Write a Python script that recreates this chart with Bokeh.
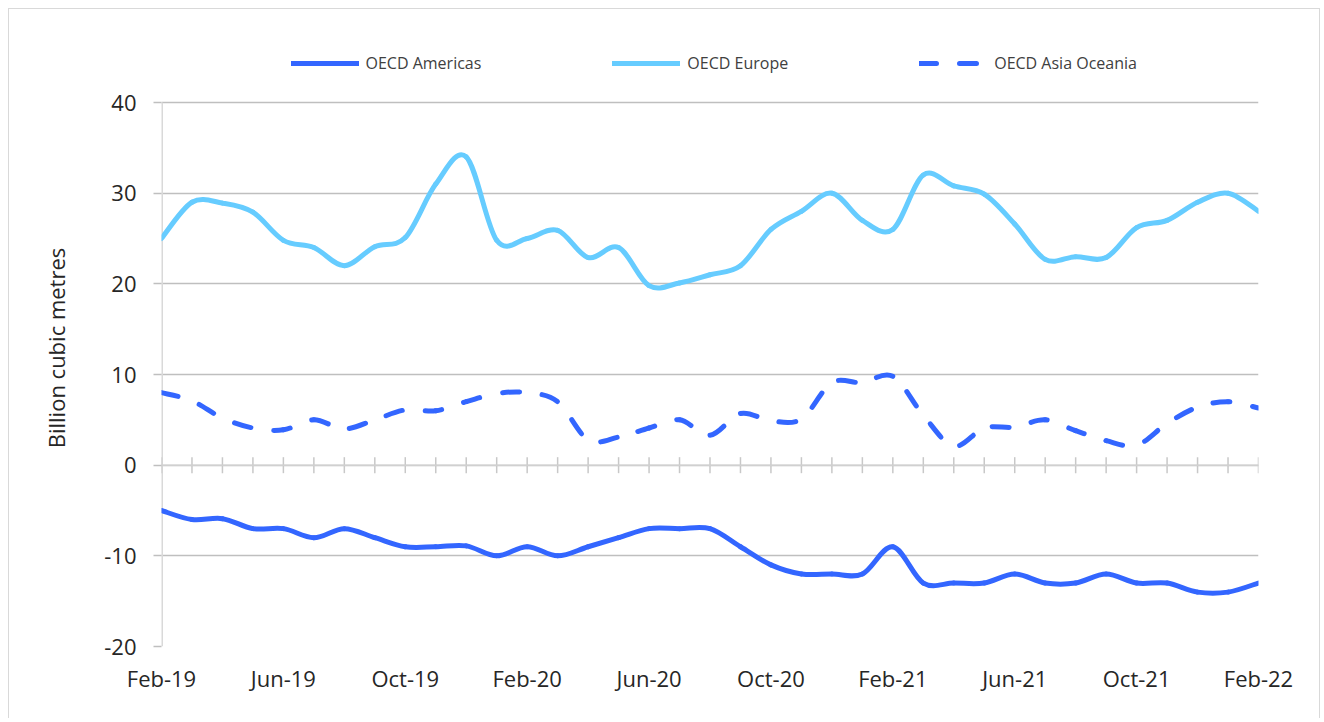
import numpy as np
from bokeh.plotting import figure
from bokeh.models import ColumnDataSource, Legend, LegendItem, Span, FixedTicker, Range1d
from bokeh.embed import file_html
from bokeh.resources import INLINE

# ---- data (monthly, Feb-19 .. Feb-22) ----
tick_labels = ["Feb-19", "Jun-19", "Oct-19", "Feb-20", "Jun-20",
               "Oct-20", "Feb-21", "Jun-21", "Oct-21", "Feb-22"]
americas = [-5, -6, -5.9, -7, -7, -8, -7, -8, -9, -9, -8.9, -10, -9, -10, -9, -8, -7, -7,
            -7, -9, -11, -12, -12, -12, -9, -13, -13, -13, -12, -13, -13, -12, -13, -13,
            -14, -14, -13]
europe = [25, 29, 28.9, 27.9, 24.8, 24, 22, 24.1, 25.1, 31, 34, 24.8, 25, 25.9, 22.9, 24,
          19.8, 20.1, 21, 22, 26, 28, 30, 27, 26, 32, 30.8, 29.9, 26.6, 22.7, 23, 22.9,
          26.2, 27, 29, 30, 28]
asia = [8, 7.1, 5.2, 4.1, 3.9, 5, 4, 5, 6.1, 6, 7, 7.9, 8, 7, 2.8, 3.1, 4.1, 5, 3.3, 5.7,
        4.9, 5.1, 9.1, 9.1, 9.8, 5.5, 2.1, 4.1, 4.2, 5, 3.8, 2.7, 2.2, 4.6, 6.4, 7, 6.3]
series_names = ["OECD Americas", "OECD Europe", "OECD Asia Oceania"]
y_ticks = [-20, -10, 0, 10, 20, 30, 40]

n = len(americas)
months = list(range(n))

FONT = "Open Sans"
BLUE = "#3366FF"
LIGHT = "#66CCFF"
GRID = "#bfbfbf"
AXIS = "#d9d9d9"
TXT = "#262626"

# canvas layout (px); the value axis spans 544 px for 60 units
W, H = 1312, 710
ML, MR, MT, MB = 152, 63, 40, 73
FW, FH = W - ML - MR, H - MT - MB
PX_PER_UNIT = 544 / 60.0
y_lo = min(y_ticks)
y_hi = y_lo + FH / PX_PER_UNIT   # extra headroom above 40 holds the legend

p = figure(width=W, height=H, x_range=Range1d(0, n - 1), y_range=Range1d(y_lo, y_hi),
           output_backend="svg", toolbar_location=None,
           min_border_left=ML, min_border_right=MR, min_border_top=MT, min_border_bottom=MB)
p.margin = (8, 0, 0, 8)
p.styles = {"border-top": "1px solid #d9d9d9", "border-left": "1px solid #d9d9d9",
            "border-right": "1px solid #d9d9d9"}
p.outline_line_color = None
p.background_fill_color = "white"
p.border_fill_color = "white"

# grid
p.xgrid.visible = False
p.ygrid.ticker = FixedTicker(ticks=y_ticks)
p.ygrid.grid_line_color = GRID
p.ygrid.grid_line_width = 1.5

# y axis
ya = p.yaxis[0]
ya.ticker = FixedTicker(ticks=y_ticks)
ya.major_label_overrides = {t: str(t) for t in y_ticks}
ya.axis_line_color = None
ya.major_tick_line_color = GRID
ya.major_tick_line_width = 1.5
ya.major_tick_out = 8
ya.major_tick_in = 0
ya.minor_tick_line_color = None
ya.major_label_text_font = FONT
ya.major_label_text_font_size = "22px"
ya.major_label_text_color = TXT
ya.major_label_standoff = 17
ya.axis_label = "Billion cubic metres"
ya.axis_label_text_font = FONT
ya.axis_label_text_font_size = "22px"
ya.axis_label_text_font_style = "normal"
ya.axis_label_text_color = TXT
ya.axis_label_standoff = 30
# visible value-axis line only between -20 and 40
p.segment(x0=[0], y0=[min(y_ticks)], x1=[0], y1=[max(y_ticks)], line_color=AXIS, line_width=3)

# x axis (labels at the bottom)
xa = p.xaxis[0]
tick_pos = [4 * i for i in range(len(tick_labels))]
xa.ticker = FixedTicker(ticks=tick_pos)
xa.major_label_overrides = {t: lab for t, lab in zip(tick_pos, tick_labels)}
xa.axis_line_color = None
xa.major_tick_line_color = None
xa.minor_tick_line_color = None
xa.major_label_text_font = FONT
xa.major_label_text_font_size = "22px"
xa.major_label_text_color = TXT
xa.major_label_standoff = 10

# zero axis with crossing month ticks
p.add_layout(Span(location=0, dimension="width", line_color="#d0d0d0", line_width=1.5))
p.scatter(x=months, y=[0] * n, marker="dash", size=16, angle=np.pi / 2,
          line_color="#c8c8c8", line_width=1.5)

# smoothed lines through the data points (Catmull-Rom -> cubic Bezier)
px_x = FW / (n - 1)
px_y = PX_PER_UNIT


def smooth(xs, ys, period=None):
    xs = np.asarray(xs, float)
    ys = np.asarray(ys, float)
    xp = np.concatenate([[xs[0]], xs, [xs[-1]]])
    yp = np.concatenate([[ys[0]], ys, [ys[-1]]])
    d = dict(x0=[], y0=[], x1=[], y1=[], cx0=[], cy0=[], cx1=[], cy1=[], off=[])
    total = 0.0
    for k in range(len(xs) - 1):
        a, b = k + 1, k + 2
        c0x = xp[a] + (xp[b] - xp[a - 1]) / 6.0
        c0y = yp[a] + (yp[b] - yp[a - 1]) / 6.0
        c1x = xp[b] - (xp[b + 1] - xp[a]) / 6.0
        c1y = yp[b] - (yp[b + 1] - yp[a]) / 6.0
        d["x0"].append(xp[a]); d["y0"].append(yp[a])
        d["x1"].append(xp[b]); d["y1"].append(yp[b])
        d["cx0"].append(c0x); d["cy0"].append(c0y)
        d["cx1"].append(c1x); d["cy1"].append(c1y)
        d["off"].append(int(round(total % period)) if period else 0)
        pts = [(xp[a], yp[a]), (c0x, c0y), (c1x, c1y), (xp[b], yp[b])]
        poly = sum(np.hypot((pts[i + 1][0] - pts[i][0]) * px_x,
                            (pts[i + 1][1] - pts[i][1]) * px_y) for i in range(3))
        chord = np.hypot((pts[3][0] - pts[0][0]) * px_x, (pts[3][1] - pts[0][1]) * px_y)
        total += (poly + chord) / 2.0
    return ColumnDataSource(d)


LW = 5
DASH = "17 23"
p.bezier(x0="x0", y0="y0", x1="x1", y1="y1", cx0="cx0", cy0="cy0", cx1="cx1", cy1="cy1",
         source=smooth(months, europe), line_color=LIGHT, line_width=LW, line_cap="round")
p.bezier(x0="x0", y0="y0", x1="x1", y1="y1", cx0="cx0", cy0="cy0", cx1="cx1", cy1="cy1",
         source=smooth(months, americas), line_color=BLUE, line_width=LW, line_cap="round")
p.bezier(x0="x0", y0="y0", x1="x1", y1="y1", cx0="cx0", cy0="cy0", cx1="cx1", cy1="cy1",
         source=smooth(months, asia, period=40), line_color=BLUE, line_width=LW,
         line_cap="round", line_dash=DASH, line_dash_offset="off")

# legend renderers (hidden straight lines of each series, used only for the key)
r_am = p.line(x=months, y=americas, line_color=BLUE, line_width=LW, line_cap="round",
              visible=False)
r_eu = p.line(x=months, y=europe, line_color=LIGHT, line_width=LW, line_cap="round",
              visible=False)
r_as = p.line(x=months, y=asia, line_color=BLUE, line_width=LW, line_cap="round",
              line_dash=DASH, visible=False)

leg = Legend(items=[LegendItem(label=nm, renderers=[r]) for nm, r in
                    zip(series_names, [r_am, r_eu, r_as])],
             location=(129.5, 572), orientation="horizontal", padding=0, margin=0,
             spacing=131, border_line_color=None, background_fill_alpha=0,
             glyph_width=68, glyph_height=20, label_standoff=7, click_policy="none",
             inactive_fill_alpha=0,
             label_text_font=FONT, label_text_font_size="16px", label_text_color="#404040")
p.add_layout(leg, "center")

open("out.html", "w").write(file_html(p, INLINE))
